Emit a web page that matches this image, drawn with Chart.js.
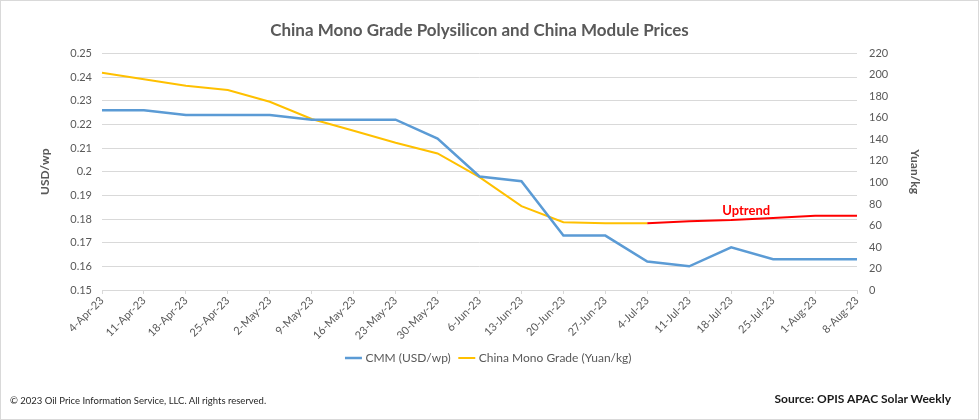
<!DOCTYPE html>
<html>
<head>
<meta charset="utf-8">
<script src="https://cdn.jsdelivr.net/npm/chart.js@4.4.0/dist/chart.umd.min.js"></script>
<style>
  body { margin: 0; background: #fff; }
  #wrap { position: relative; width: 979px; height: 420px; font-family: Lato, "Open Sans", sans-serif; }
  #frame { position: absolute; left: 0; top: 0; width: 977px; height: 418px; border: 1px solid #d9d9d9; pointer-events: none; }
  .foot { position: absolute; color: #262626; white-space: nowrap; }
  #copy { left: 10px; top: 395px; font-size: 9.5px; }
  #source { right: 28px; top: 391px; font-size: 12px; font-weight: bold; color: #1a1a1a; }
</style>
</head>
<body>
<div id="wrap">
  <canvas id="chart" width="979" height="420"></canvas>
  <div id="frame"></div>
  <div class="foot" id="copy">© 2023 Oil Price Information Service, LLC. All rights reserved.</div>
  <div class="foot" id="source">Source: OPIS APAC Solar Weekly</div>
</div>
<script>
// weekly dates
const weeks = ['4-Apr-23', '11-Apr-23', '18-Apr-23', '25-Apr-23', '2-May-23', '9-May-23', '16-May-23',
  '23-May-23', '30-May-23', '6-Jun-23', '13-Jun-23', '20-Jun-23', '27-Jun-23', '4-Jul-23',
  '11-Jul-23', '18-Jul-23', '25-Jul-23', '1-Aug-23', '8-Aug-23'];

// CMM module price, USD/wp (left axis)
const cmmUsd = [0.226, 0.226, 0.224, 0.224, 0.224, 0.222, 0.222, 0.222, 0.214, 0.198, 0.196,
  0.173, 0.173, 0.162, 0.160, 0.168, 0.163, 0.163, 0.163];

// China mono grade polysilicon, Yuan/kg (right axis)
const monoYuan = [202, 196, 190, 186, 175, 159, 148, 137, 127, 105, 78, 63, 62, 62, 64, 65, 67, 69, 69];

const uptrendFrom = 13; // line turns red from 4-Jul-23
const uptrendText = 'Uptrend';

const leftTicks = { min: 0.15, max: 0.25, step: 0.01 };
const rightTicks = { min: 0, max: 220, step: 20 };

const grey = '#595959';
const font = 'Lato, "Open Sans", sans-serif';

const uptrendLabel = {
  id: 'uptrendLabel',
  afterDatasetsDraw(chart) {
    const x = chart.scales.x.getPixelForValue(15) + 15;
    const y = chart.scales.y1.getPixelForValue(monoYuan[15]) - 9;
    const ctx = chart.ctx;
    ctx.save();
    ctx.font = 'bold 13px ' + font;
    ctx.fillStyle = '#ff0000';
    ctx.textAlign = 'center';
    ctx.textBaseline = 'middle';
    ctx.fillText(uptrendText, x, y);
    ctx.restore();
  }
};

new Chart(document.getElementById('chart'), {
  type: 'line',
  data: {
    labels: weeks,
    datasets: [
      {
        label: 'CMM (USD/wp)',
        data: cmmUsd,
        yAxisID: 'y',
        borderColor: '#5b9bd5',
        backgroundColor: '#5b9bd5',
        borderWidth: 2.5,
        pointRadius: 0,
        tension: 0,
      },
      {
        label: 'China Mono Grade (Yuan/kg)',
        data: monoYuan,
        yAxisID: 'y1',
        borderColor: '#ffc000',
        backgroundColor: '#ffc000',
        borderWidth: 2,
        pointRadius: 0,
        tension: 0,
        segment: {
          borderColor: (ctx) => (ctx.p0DataIndex >= uptrendFrom ? '#ff0000' : undefined),
        },
      },
    ],
  },
  options: {
    responsive: false,
    animation: false,
    layout: { padding: { top: 0, left: 0, right: 0, bottom: 46 } },
    plugins: {
      title: {
        display: true,
        fullSize: false,
        text: 'China Mono Grade Polysilicon and China Module Prices',
        color: grey,
        font: { family: font, size: 17, weight: 'bold' },
        padding: { top: 20, bottom: 13 },
      },
      legend: {
        position: 'bottom',
        labels: {
          color: grey,
          font: { family: font, size: 12 },
          usePointStyle: true,
          pointStyle: 'line',
          boxWidth: 22,
          padding: 10,
        },
      },
      tooltip: { enabled: false },
    },
    scales: {
      x: {
        offset: false,
        grid: { display: true, drawOnChartArea: false, color: '#d9d9d9', tickLength: 4 },
        border: { color: '#d9d9d9' },
        ticks: {
          color: grey,
          font: { family: font, size: 11 },
          maxRotation: 45,
          minRotation: 45,
          autoSkip: false,
          padding: 0,
        },
        afterFit(scale) { scale.height = 52; },
      },
      y: {
        position: 'left',
        min: leftTicks.min,
        max: leftTicks.max,
        grid: { color: '#d9d9d9', drawTicks: false },
        border: { display: false },
        ticks: {
          stepSize: leftTicks.step,
          color: grey,
          font: { family: font, size: 11 },
          padding: 10,
          callback: (v) => String(Number(v.toFixed(2))),
        },
        title: {
          display: true,
          text: 'USD/wp',
          color: grey,
          font: { family: font, size: 12, weight: 'bold' },
          padding: { top: 38, bottom: 0 },
        },
        afterFit(scale) { scale.width = 102; },
      },
      y1: {
        position: 'right',
        min: rightTicks.min,
        max: rightTicks.max,
        grid: { drawOnChartArea: false, drawTicks: false },
        border: { display: false },
        ticks: {
          stepSize: rightTicks.step,
          color: grey,
          font: { family: font, size: 11 },
          padding: 12,
        },
        title: {
          display: true,
          text: 'Yuan/kg',
          color: grey,
          font: { family: font, size: 12, weight: 'bold' },
          padding: { top: 57, bottom: 0 },
        },
        afterFit(scale) { scale.width = 122; },
      },
    },
  },
  plugins: [uptrendLabel],
});
</script>
</body>
</html>
